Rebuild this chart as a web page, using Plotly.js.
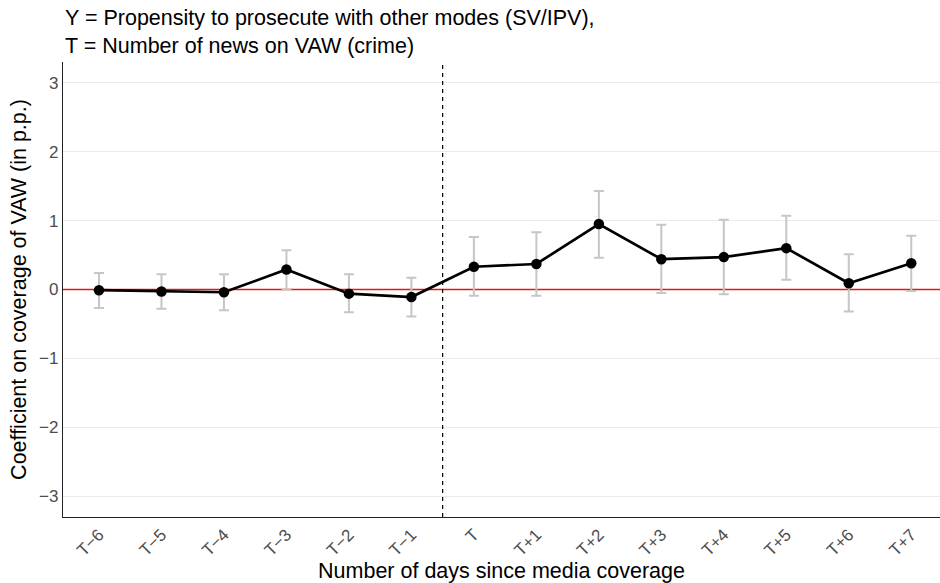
<!DOCTYPE html>
<html>
<head>
<meta charset="utf-8">
<script src="https://cdn.plot.ly/plotly-3.0.1.min.js"></script>
<style>html,body{margin:0;padding:0;background:#fff;}#chart{width:940px;height:583px;}</style>
</head>
<body>
<div id="chart"></div>
<script>
const labels = ["T\u22126","T\u22125","T\u22124","T\u22123","T\u22122","T\u22121","T","T+1","T+2","T+3","T+4","T+5","T+6","T+7"];
const coef  = [-0.01,-0.03,-0.04,0.29,-0.06,-0.11,0.33,0.37,0.95,0.44,0.47,0.60,0.09,0.38];
const upper = [0.24,0.22,0.22,0.57,0.22,0.17,0.76,0.83,1.43,0.94,1.01,1.07,0.51,0.78];
const lower = [-0.27,-0.28,-0.30,0.00,-0.33,-0.39,-0.09,-0.09,0.46,-0.05,-0.07,0.14,-0.32,-0.02];
const refValue = 0;
const yTicks = [-3,-2,-1,0,1,2,3];
const yTickText = ["\u22123","\u22122","\u22121","0","1","2","3"];
const titleLines = ["Y = Propensity to prosecute with other modes (SV/IPV),", "T = Number of news on VAW (crime)"];

const idx = labels.map((_, i) => i);
const errPlus = upper.map((u, i) => u - coef[i]);
const errMinus = coef.map((c, i) => c - lower[i]);

const traces = [
  {
    x: [idx[0] - 2, idx[idx.length - 1] + 2], y: [refValue, refValue],
    type: 'scatter', mode: 'lines', line: {color: 'rgb(230,20,20)', width: 1.4},
    hoverinfo: 'skip', showlegend: false, cliponaxis: true
  },
  {
    x: idx, y: coef, type: 'scatter', mode: 'lines',
    line: {color: 'rgba(0,0,0,0)', width: 0},
    error_y: {type: 'data', symmetric: false, array: errPlus, arrayminus: errMinus,
              color: '#c6c6c6', thickness: 2, width: 5},
    hoverinfo: 'skip', showlegend: false
  },
  {
    x: idx, y: coef, type: 'scatter', mode: 'lines+markers',
    line: {color: '#000000', width: 2.7},
    marker: {color: '#000000', size: 10.5},
    showlegend: false
  }
];

const layout = {
  width: 940, height: 583,
  margin: {l: 63, r: 0, t: 62, b: 66},
  paper_bgcolor: '#ffffff', plot_bgcolor: '#ffffff',
  font: {family: '"Liberation Sans", Arial, sans-serif', color: '#000000'},
  xaxis: {
    range: [-0.576, 13.46],
    tickmode: 'array', tickvals: idx, ticktext: labels,
    tickangle: -45,
    tickfont: {size: 17, color: '#4d4d4d'},
    showgrid: false, zeroline: false,
    showline: true, linecolor: '#222222', linewidth: 1.1,
    ticks: '',
    title: {text: 'Number of days since media coverage', font: {size: 21.5, color: '#000000'}, standoff: 2}
  },
  yaxis: {
    range: [-3.3, 3.3],
    tickmode: 'array', tickvals: yTicks, ticktext: yTickText,
    tickfont: {size: 17, color: '#4d4d4d'},
    showgrid: true, gridcolor: '#ebebeb', gridwidth: 1.1,
    zeroline: false,
    showline: true, linecolor: '#222222', linewidth: 1.1,
    ticks: '',
    title: {text: 'Coefficient on coverage of VAW (in p.p.)', font: {size: 21.5, color: '#000000'}, standoff: 6}
  },
  annotations: [
    {text: titleLines.join('<br>'), xref: 'paper', yref: 'paper', x: 0, y: 1.1275,
     xanchor: 'left', yanchor: 'top', align: 'left', showarrow: false,
     font: {size: 21.5, color: '#000000'}}
  ],
  shapes: [
    {type: 'line', xref: 'x', yref: 'paper', x0: 5.5, x1: 5.5, y0: 0, y1: 1,
     line: {color: '#000000', width: 1.2, dash: '4px,4px'}, layer: 'above'}
  ]
};

Plotly.newPlot('chart', traces, layout, {displayModeBar: false, staticPlot: true});
</script>
</body>
</html>
